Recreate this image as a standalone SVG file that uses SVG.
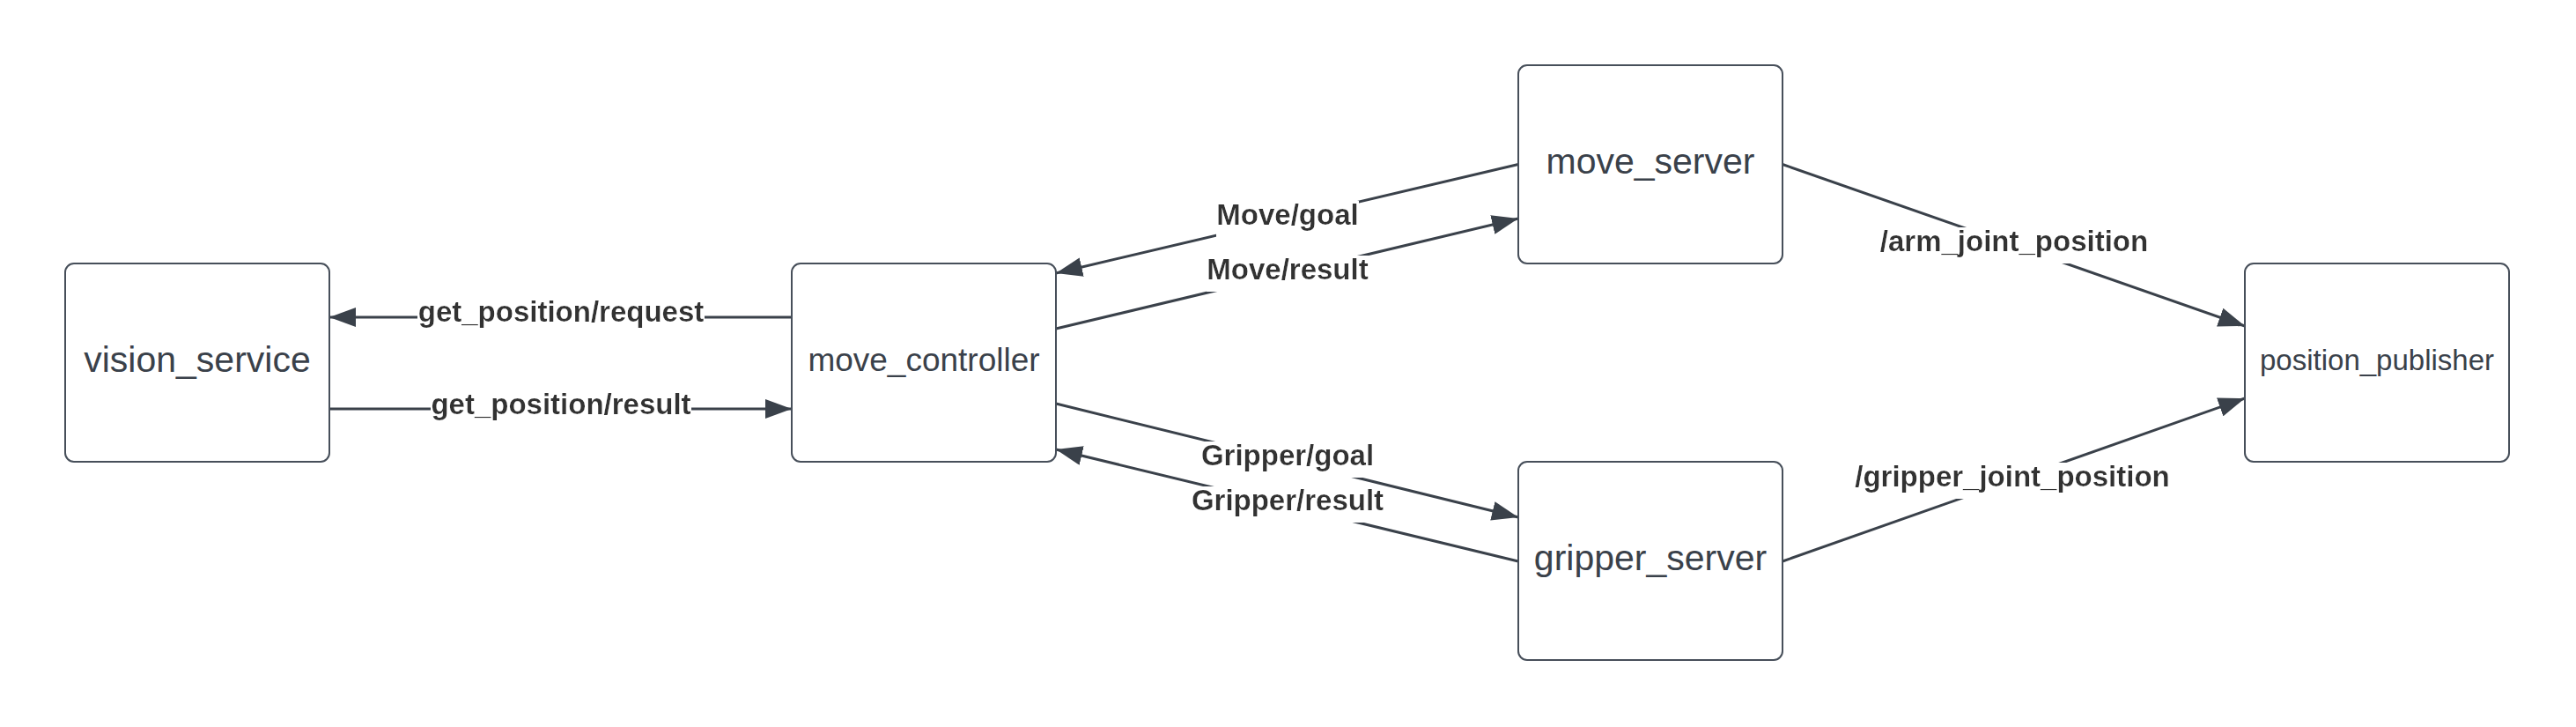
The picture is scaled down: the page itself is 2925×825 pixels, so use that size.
<svg xmlns="http://www.w3.org/2000/svg" width="2925" height="825" viewBox="0 0 2925 825">
  <style>
    .box { fill: #ffffff; stroke: #474f5a; stroke-width: 2; }
    .ntext { font-family: "Liberation Sans", Arial, sans-serif; fill: #3a414a; text-anchor: middle; }
    .edge { fill: none; stroke: #3a414a; stroke-width: 3; }
    .lbl { font-family: "Liberation Sans", Arial, sans-serif; font-weight: bold; font-size: 33px; fill: #333333; text-anchor: middle; }
  </style>
  <defs>
    <marker id="arrow" markerUnits="userSpaceOnUse" markerWidth="30" markerHeight="22" refX="30" refY="11" orient="auto" viewBox="0 0 30 22">
      <path d="M0,0 L30,11 L0,22 Z" fill="#3a414a"/>
    </marker>
    <filter id="bg" x="0" y="0.092" width="1" height="1.084">
      <feFlood flood-color="#ffffff"/>
      <feComposite in="SourceGraphic" operator="over"/>
    </filter>
  </defs>
  <rect width="2925" height="825" fill="#ffffff"/>

  <g id="connectors">
    <line class="edge" x1="899" y1="360" x2="374" y2="360" marker-end="url(#arrow)"/>
    <line class="edge" x1="374" y1="464" x2="899" y2="464" marker-end="url(#arrow)"/>
    <line class="edge" x1="1724" y1="186.5" x2="1199" y2="310" marker-end="url(#arrow)"/>
    <line class="edge" x1="1199" y1="373" x2="1724" y2="248" marker-end="url(#arrow)"/>
    <line class="edge" x1="1199" y1="458" x2="1724" y2="587" marker-end="url(#arrow)"/>
    <line class="edge" x1="1724" y1="637" x2="1199" y2="510" marker-end="url(#arrow)"/>
    <line class="edge" x1="2024" y1="186.5" x2="2549" y2="370" marker-end="url(#arrow)"/>
    <line class="edge" x1="2024" y1="637" x2="2549" y2="452" marker-end="url(#arrow)"/>

    <text class="lbl" filter="url(#bg)" x="637" y="365">get_position/request</text>
    <text class="lbl" filter="url(#bg)" x="637" y="470">get_position/result</text>
    <text class="lbl" filter="url(#bg)" x="1462" y="255">Move/goal</text>
    <text class="lbl" filter="url(#bg)" x="1462" y="317">Move/result</text>
    <text class="lbl" filter="url(#bg)" x="1462" y="528">Gripper/goal</text>
    <text class="lbl" filter="url(#bg)" x="1462" y="579">Gripper/result</text>
    <text class="lbl" filter="url(#bg)" x="2287" y="285">/arm_joint_position</text>
    <text class="lbl" filter="url(#bg)" x="2285" y="552">/gripper_joint_position</text>
  </g>

  <g id="vision_service">
    <rect class="box" x="74" y="299" width="300" height="225" rx="10" ry="10"/>
    <text class="ntext" x="224" y="422" font-size="41">vision_service</text>
  </g>
  <g id="move_controller">
    <rect class="box" x="899" y="299" width="300" height="225" rx="10" ry="10"/>
    <text class="ntext" x="1049" y="421" font-size="37">move_controller</text>
  </g>
  <g id="move_server">
    <rect class="box" x="1724" y="74" width="300" height="225" rx="10" ry="10"/>
    <text class="ntext" x="1874" y="197" font-size="41">move_server</text>
  </g>
  <g id="gripper_server">
    <rect class="box" x="1724" y="524" width="300" height="225" rx="10" ry="10"/>
    <text class="ntext" x="1874" y="647" font-size="41">gripper_server</text>
  </g>
  <g id="position_publisher">
    <rect class="box" x="2549" y="299" width="300" height="225" rx="10" ry="10"/>
    <text class="ntext" x="2699" y="420" font-size="33">position_publisher</text>
  </g>
</svg>
